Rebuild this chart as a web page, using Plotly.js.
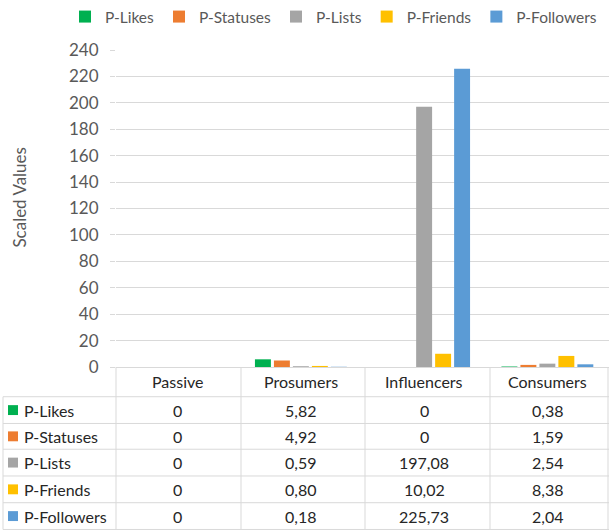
<!DOCTYPE html>
<html>
<head>
<meta charset="utf-8">
<script src="https://cdn.plot.ly/plotly-3.0.1.min.js"></script>
<style>html,body{margin:0;padding:0;background:#fff;}#chart{width:609px;height:531px;}</style>
</head>
<body>
<div id="chart"></div>
<script>
const categories = ["Passive", "Prosumers", "Influencers", "Consumers"];
const seriesNames = ["P-Likes", "P-Statuses", "P-Lists", "P-Friends", "P-Followers"];
const pLikes = [0, 5.82, 0, 0.38];
const pStatuses = [0, 4.92, 0, 1.59];
const pLists = [0, 0.59, 197.08, 2.54];
const pFriends = [0, 0.80, 10.02, 8.38];
const pFollowers = [0, 0.18, 225.73, 2.04];
const colors = ["#00B050", "#ED7D31", "#A5A5A5", "#FFC000", "#5B9BD5"];
const yTicks = [0, 20, 40, 60, 80, 100, 120, 140, 160, 180, 200, 220, 240];
const yTitle = "Scaled Values";

const seriesValues = [pLikes, pStatuses, pLists, pFriends, pFollowers];
const FONT = "Lato, Calibri, 'Open Sans', sans-serif";
const TXT = "#262626";
const GRAYTXT = "#595959";

// pixel -> paper helpers (plot area: x 116..609, y 47..367)
const L = 116, R = 609, T = 47, B = 367;
const px = p => (p - L) / (R - L);
const py = p => (B - p) / (B - T);

const traces = seriesNames.map((n, i) => ({
  type: "bar", name: n, x: categories, y: seriesValues[i],
  marker: {color: colors[i]}, hoverinfo: "skip"
}));

const fmt = v => v === 0 ? "0" : v.toFixed(2).replace(".", ",");

const annotations = [];
const shapes = [];
const lineC = "#d9d9d9";
const FS = 16;
const rowEdges = [397, 424, 450, 477, 504, 531];
// y-axis title
annotations.push({x: px(20), xref: "paper", y: py(196), yref: "paper", text: yTitle,
  textangle: -90, showarrow: false, font: {family: FONT, size: 17, color: GRAYTXT},
  xanchor: "center", yanchor: "middle"});
// header labels
categories.forEach(c => annotations.push({
  x: c, xref: "x", y: py(382), yref: "paper", text: c, showarrow: false,
  font: {family: FONT, size: FS, color: TXT}, xanchor: "center", yanchor: "middle"
}));
// rows
seriesNames.forEach((n, i) => {
  const yc = (rowEdges[i] + rowEdges[i + 1]) / 2;
  annotations.push({
    x: px(22), xref: "paper", y: py(yc), yref: "paper", text: n, showarrow: false,
    font: {family: FONT, size: FS, color: TXT}, xanchor: "left", yanchor: "middle"
  });
  shapes.push({type: "rect", xref: "paper", yref: "paper", x0: px(8), x1: px(18),
    y0: py(yc - 5), y1: py(yc + 5), fillcolor: colors[i], line: {width: 0}});
  seriesValues[i].forEach((v, j) => annotations.push({
    x: categories[j], xref: "x", y: py(yc), yref: "paper", text: fmt(v), showarrow: false,
    font: {family: FONT, size: FS, color: TXT}, xanchor: "center", yanchor: "middle"
  }));
});
// table grid lines
rowEdges.forEach(e => shapes.push({type: "line", xref: "paper", yref: "paper",
  x0: px(3), x1: px(609), y0: py(e), y1: py(e), line: {color: lineC, width: 1}}));
shapes.push({type: "line", xref: "paper", yref: "paper", x0: px(3), x1: px(3),
  y0: py(397), y1: py(531), line: {color: lineC, width: 1}});
[116, 241, 365, 490, 608].forEach(xv => shapes.push({type: "line", xref: "paper", yref: "paper",
  x0: px(xv), x1: px(xv), y0: py(367), y1: py(531), line: {color: lineC, width: 1}}));

const layout = {
  width: 609, height: 531,
  margin: {l: L, r: 609 - R, t: T, b: 531 - B, pad: 0},
  paper_bgcolor: "#fff", plot_bgcolor: "#fff",
  barmode: "group", bargap: 0.23, bargroupgap: 0.16,
  font: {family: FONT, color: TXT},
  xaxis: {showticklabels: false, ticks: "", showgrid: false, zeroline: false,
    showline: true, linecolor: lineC, linewidth: 1, fixedrange: true},
  yaxis: {range: [0, 240], tickvals: yTicks, ticktext: yTicks.map(String),
    showgrid: true, gridcolor: lineC, gridwidth: 1, zeroline: false, showline: false,
    ticks: "outside", ticklen: 5, tickcolor: lineC, ticklabelstandoff: 8,
    tickfont: {family: FONT, size: 17, color: GRAYTXT}},
  showlegend: true,
  legend: {orientation: "h", x: px(65), xanchor: "left", y: py(-4), yanchor: "top",
    font: {family: FONT, size: 15.5, color: GRAYTXT}, traceorder: "normal",
    itemwidth: 30, bgcolor: "rgba(0,0,0,0)"},
  annotations: annotations, shapes: shapes
};

Plotly.newPlot("chart", traces, layout, {displayModeBar: false, staticPlot: true});
</script>
</body>
</html>
